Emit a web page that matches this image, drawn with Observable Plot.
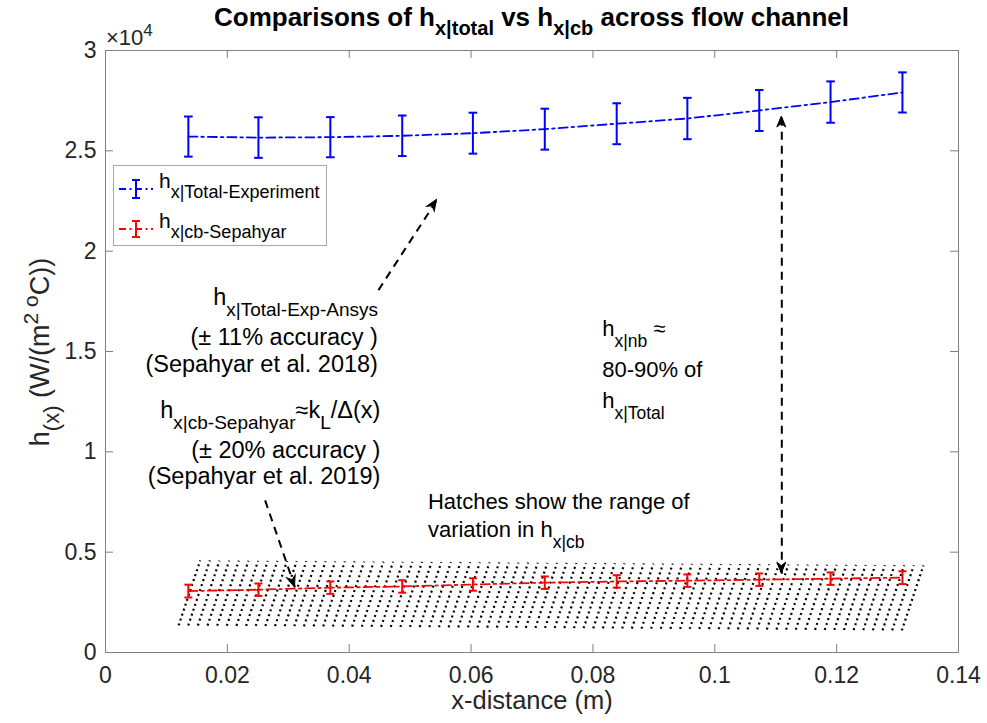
<!DOCTYPE html>
<html><head><meta charset="utf-8">
<script src="https://cdn.jsdelivr.net/npm/d3@7"></script>
<script src="https://cdn.jsdelivr.net/npm/@observablehq/plot@0.6"></script>
<style>
body{margin:0;background:#fff;}
#chart{width:987px;height:723px;}
#chart svg{display:block;}
</style></head><body><div id="chart"></div>
<script>
// ---- data ----
const xPos = [0.0136, 0.0251, 0.0369, 0.0487, 0.0603, 0.0721, 0.0839, 0.0955, 0.1073, 0.1190, 0.1308];
const hTotal = [25710, 25660, 25680, 25750, 25880, 26080, 26350, 26610, 27010, 27430, 27910];
const hTotalErr = [1000, 1010, 1000, 1010, 1020, 1020, 1020, 1030, 1020, 1030, 1000];
const hCb = [3060, 3130, 3230, 3290, 3390, 3480, 3540, 3580, 3630, 3680, 3730];
const hCbErr = [320, 310, 310, 310, 310, 310, 310, 310, 310, 310, 320];

const xTicks = [0, 0.02, 0.04, 0.06, 0.08, 0.1, 0.12, 0.14];
const xTickLabels = ["0", "0.02", "0.04", "0.06", "0.08", "0.1", "0.12", "0.14"];
const yTicks = [0, 5000, 10000, 15000, 20000, 25000, 30000];
const yTickLabels = ["0", "0.5", "1", "1.5", "2", "2.5", "3"];

// hatched band (range of variation in h_x|cb)
const hatchBottomX = [0.0120, 0.1307];
const hatchBottomY = [1350, 1100];
const hatchTopY = [4590, 4340];
const hatchLean = 0.00355;
const hatchCount = 76;

// annotation arrows (data coordinates): start -> end (head at end)
const arrowX1 = [0.0448, 0.0262, 0.1110];
const arrowY1 = [18060, 7580, 3930];
const arrowX2 = [0.0544, 0.0311, 0.1110];
const arrowY2 = [22550, 3250, 26710];
const arrowBothEnds = [false, false, true];

// ---- build ----
const blue = "#0000ff", red = "#ff0000";
const toRows = (ys, es) => xPos.map((x, i) => ({x, y: ys[i], e: es[i]}));
const totalRows = toRows(hTotal, hTotalErr);
const cbRows = toRows(hCb, hCbErr);
const hatch = d3.range(hatchCount).map(i => {
  const t = i / (hatchCount - 1);
  const xb = hatchBottomX[0] + t * (hatchBottomX[1] - hatchBottomX[0]);
  return {xb, yb: hatchBottomY[0] + t * (hatchBottomY[1] - hatchBottomY[0]),
          xt: xb + hatchLean, yt: hatchTopY[0] + t * (hatchTopY[1] - hatchTopY[0])};
});
const arrows = arrowX1.map((x1, i) => ({x1, y1: arrowY1[i], x2: arrowX2[i], y2: arrowY2[i], both: arrowBothEnds[i]}));
const capSymbol = {draw(ctx, size) { const r = Math.sqrt(size / Math.PI); ctx.moveTo(-r, 0); ctx.lineTo(r, 0); }};

const W = 987, H = 723, mL = 105, mR = 29, mT = 50, mB = 71;
const pw = W - mL - mR, ph = H - mT - mB;
const axisCol = "#808080", textCol = "#262626";

function errorMarks(rows, color, capR, lw) {
  return [
    Plot.ruleX(rows, {x: "x", y1: d => d.y - d.e, y2: d => d.y + d.e, stroke: color, strokeWidth: lw}),
    Plot.dot(rows, {x: "x", y: d => d.y + d.e, symbol: capSymbol, r: capR, stroke: color, strokeWidth: lw, fill: "none"}),
    Plot.dot(rows, {x: "x", y: d => d.y - d.e, symbol: capSymbol, r: capR, stroke: color, strokeWidth: lw, fill: "none"})
  ];
}

const chart = Plot.plot({
  width: W, height: H,
  marginLeft: mL, marginRight: mR, marginTop: mT, marginBottom: mB,
  style: {fontFamily: "'Liberation Sans', Arial, Helvetica, sans-serif", color: textCol, background: "white", overflow: "visible"},
  x: {domain: [0, 0.14]},
  y: {domain: [0, 30000]},
  marks: [
    Plot.link(hatch, {x1: "xb", y1: "yb", x2: "xt", y2: "yt", stroke: "black", strokeWidth: 2.2, strokeDasharray: "2,3.2"}),
    Plot.line(totalRows, {x: "x", y: "y", stroke: blue, strokeWidth: 1.8, strokeDasharray: "9,4,2.5,4"}),
    ...errorMarks(totalRows, blue, 4.3, 2),
    Plot.line(cbRows, {x: "x", y: "y", stroke: red, strokeWidth: 1.8, strokeDasharray: "9,4,2.5,4"}),
    ...errorMarks(cbRows, red, 4, 2),
    Plot.link(arrows, {x1: "x1", y1: "y1", x2: "x2", y2: "y2", stroke: "black", strokeWidth: 2, strokeDasharray: "8,6"}),
    Plot.frame({stroke: axisCol, strokeWidth: 1}),
    Plot.ruleX(xTicks, {stroke: axisCol, insetTop: ph - 8}),
    Plot.ruleX(xTicks, {stroke: axisCol, insetBottom: ph - 8}),
    Plot.ruleY(yTicks, {stroke: axisCol, insetRight: pw - 8}),
    Plot.ruleY(yTicks, {stroke: axisCol, insetLeft: pw - 8}),
    Plot.axisX(xTicks, {tickSize: 0, tickPadding: 14, fontSize: 23, label: null, tickFormat: d => xTickLabels[xTicks.indexOf(d)]}),
    Plot.axisY(yTicks, {tickSize: 0, tickPadding: 9, fontSize: 23, label: null, tickFormat: d => yTickLabels[yTicks.indexOf(d)]}),
    Plot.text(["x-distance (m)"], {frameAnchor: "bottom", dy: 56, fontSize: 25.5, fill: textCol})
  ]
});
document.getElementById("chart").appendChild(chart);

// ---- annotations using the chart's scales ----
const svg = d3.select(chart);
const sx = chart.scale("x"), sy = chart.scale("y");
const X = v => sx.apply(v), Y = v => sy.apply(v);
const FONT = "'Liberation Sans', Arial, Helvetica, sans-serif";

function rich(g, x, y, parts, {size = 23, sub = 18, anchor = "start", fill = "black", weight = "normal", rotate = null} = {}) {
  const t = g.append("text").attr("x", x).attr("y", y).attr("text-anchor", anchor)
    .attr("font-family", FONT).attr("font-size", size).attr("fill", fill).attr("font-weight", weight);
  if (rotate !== null) t.attr("transform", `rotate(${rotate},${x},${y})`);
  let cur = 0;
  for (const p of parts) {
    const s = typeof p === "string" ? {t: p, off: 0} : p;
    const off = s.off || 0;
    const ts = t.append("tspan").text(s.t).attr("dy", off - cur);
    if (off !== 0) ts.attr("font-size", s.size || sub);
    cur = off;
  }
  return t;
}

const ann = svg.append("g");
function head(xa, ya, xb, yb) {
  const ang = Math.atan2(yb - ya, xb - xa) * 180 / Math.PI;
  ann.append("path").attr("d", "M0,0L-11,-4.5L-7.5,0L-11,4.5Z").attr("fill", "black").attr("stroke", "black").attr("stroke-width", 1)
    .attr("transform", `translate(${xb},${yb}) rotate(${ang})`);
}
for (const a of arrows) {
  const p1 = [X(a.x1), Y(a.y1)], p2 = [X(a.x2), Y(a.y2)];
  head(p1[0], p1[1], p2[0], p2[1]);
  if (a.both) head(p2[0], p2[1], p1[0], p1[1]);
}

// text blocks
const sb = 11;
const bigF = {anchor: "end", size: 23.5, sub: 19};
const rx1 = X(0.0448);
rich(ann, rx1, Y(17315), ["h", {t: "x|Total-Exp-Ansys", off: sb}], bigF);
rich(ann, rx1, Y(15319), ["(± 11% accuracy )"], bigF);
rich(ann, rx1, Y(13972), ["(Sepahyar et al. 2018)"], bigF);
const rx2 = X(0.0452);
rich(ann, rx2, Y(11677), ["h", {t: "x|cb-Sepahyar", off: sb}, {t: "≈k", off: 0}, {t: "L", off: sb}, {t: "/Δ(x)", off: 0}], bigF);
rich(ann, rx2, Y(9681), ["(± 20% accuracy )"], bigF);
rich(ann, rx2, Y(8383), ["(Sepahyar et al. 2019)"], bigF);
const smF = {size: 22, sub: 17.5};
const lx3 = X(0.0816);
rich(ann, lx3, Y(15768), ["h", {t: "x|nb", off: sb}, {t: " ≈", off: 0}], smF);
rich(ann, lx3, Y(13723), ["80-90% of"], smF);
rich(ann, lx3, Y(12176), ["h", {t: "x|Total", off: sb}], smF);
const lx4 = X(0.0530);
rich(ann, lx4, Y(7136), ["Hatches show the range of"], smF);
rich(ann, lx4, Y(5739), ["variation in h", {t: "x|cb", off: sb}], smF);

// y-axis label (rotated)
rich(ann, 49, 352, ["h", {t: "(x)", off: 10, size: 22}, {t: " (W/(m", off: 0}, {t: "2 ", off: -11, size: 21}, {t: "o", off: -11, size: 21}, {t: "C))", off: 0}],
  {anchor: "middle", size: 27, fill: textCol, rotate: -90});

// exponent
rich(ann, 106, 45, ["×10", {t: "4", off: -9, size: 17}], {size: 22, fill: textCol});

// title
rich(ann, mL + pw / 2, 26, ["Comparisons of h", {t: "x|total", off: 9, size: 20}, {t: " vs h", off: 0}, {t: "x|cb", off: 9, size: 20}, {t: " across flow channel", off: 0}],
  {anchor: "middle", size: 26, weight: "bold", fill: "black"});

// legend
const lg = ann.append("g");
lg.append("rect").attr("x", 113.5).attr("y", 165.5).attr("width", 213).attr("height", 80).attr("fill", "white").attr("stroke", "#a6a6a6");
const legendItems = [{c: blue, y: 189, label: "x|Total-Experiment", e: 9}, {c: red, y: 229, label: "x|cb-Sepahyar", e: 8}];
for (const it of legendItems) {
  lg.append("line").attr("x1", 119).attr("x2", 153).attr("y1", it.y).attr("y2", it.y).attr("stroke", it.c).attr("stroke-width", 1.8).attr("stroke-dasharray", "7,3.5,2,3.5");
  lg.append("line").attr("x1", 136).attr("x2", 136).attr("y1", it.y - it.e).attr("y2", it.y + it.e).attr("stroke", it.c).attr("stroke-width", 2);
  lg.append("line").attr("x1", 132).attr("x2", 140).attr("y1", it.y - it.e).attr("y2", it.y - it.e).attr("stroke", it.c).attr("stroke-width", 2);
  lg.append("line").attr("x1", 132).attr("x2", 140).attr("y1", it.y + it.e).attr("y2", it.y + it.e).attr("stroke", it.c).attr("stroke-width", 2);
  rich(lg, 159, it.y - 1, ["h", {t: it.label, off: 10}], {size: 21, sub: 18});
}
</script></body></html>
